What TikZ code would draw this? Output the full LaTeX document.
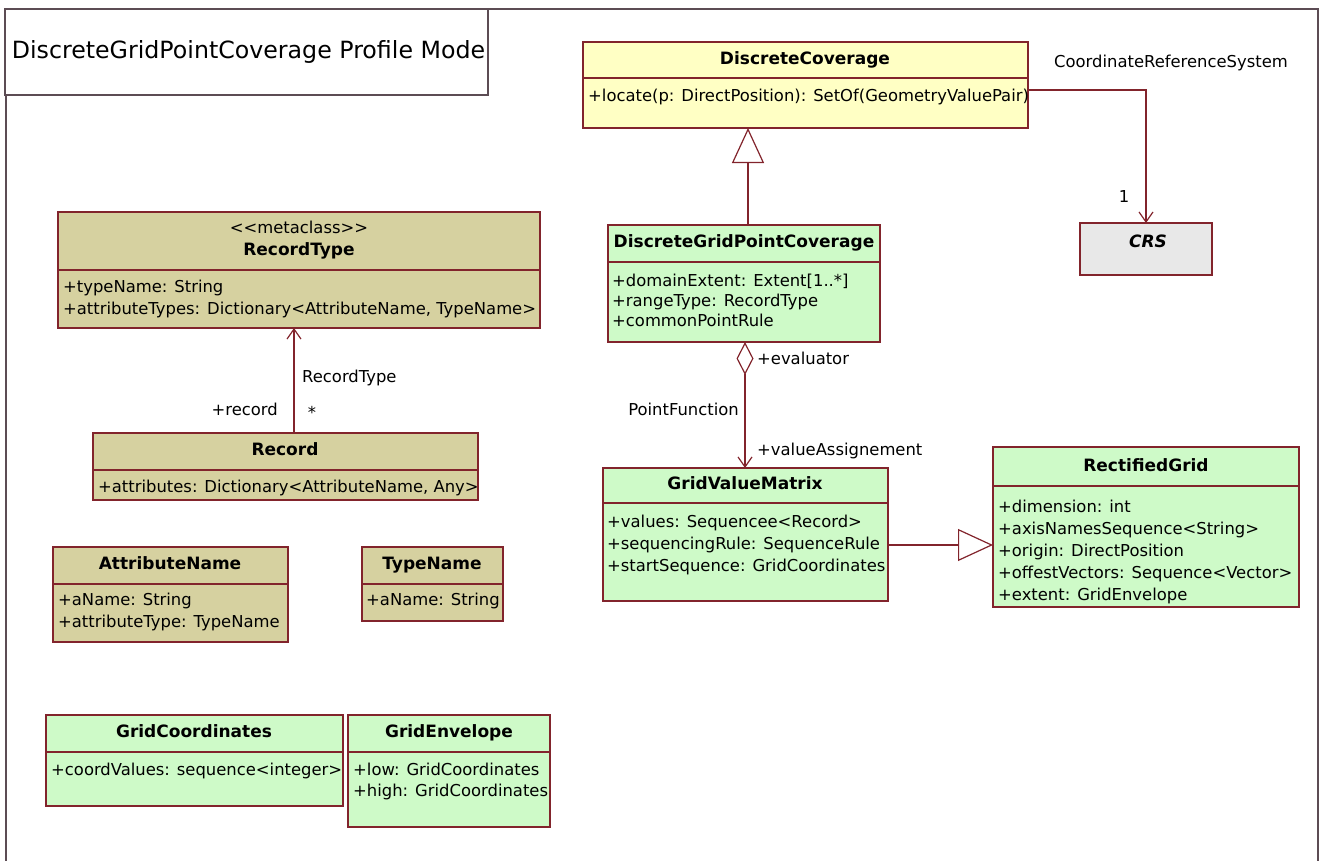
\documentclass[tikz,border=0pt]{standalone}
\usepackage{fontspec}
\setmainfont{DejaVu Sans}
\usetikzlibrary{arrows.meta,calc}
\definecolor{framecol}{RGB}{92,76,84}
\definecolor{edgecol}{RGB}{130,36,44}
\definecolor{yelfill}{RGB}{255,255,196}
\definecolor{khafill}{RGB}{214,209,160}
\definecolor{grnfill}{RGB}{206,250,200}
\definecolor{gryfill}{RGB}{232,232,232}
\tikzset{
  cls/.style={draw=edgecol, line width=1.3pt, inner sep=0pt, outer sep=0pt, anchor=north west},
  hdr/.style={font=\fontsize{17}{20}\selectfont\bfseries, inner sep=0pt, text height=12.5pt, text depth=3.5pt},
  att/.style={font=\fontsize{16.4}{20}\selectfont, inner sep=0pt, anchor=west, text height=12.5pt, text depth=3.5pt},
  lbl/.style={font=\fontsize{16.4}{20}\selectfont, inner sep=0pt, text height=12.5pt, text depth=3.5pt},
  sepline/.style={draw=edgecol, line width=1.3pt},
  assoc/.style={draw=edgecol, line width=1.2pt, -{Straight Barb[length=10pt,width=14pt]}},
  gen/.style={draw=edgecol, line width=1.2pt, -{Triangle[open,length=35pt,width=32pt,fill=white]}},
  agg/.style={draw=edgecol, line width=1.2pt, {Diamond[open,length=33pt,width=17pt,fill=white]}-{Straight Barb[length=10pt,width=14pt]}},
}
\begin{document}
\begin{tikzpicture}[x=1pt,y=-1pt]
\useasboundingbox (0,0) rectangle (1320,860);
% outer frame
\draw[draw=framecol, line width=2pt] (6,875) -- (6,9) -- (1318,9) -- (1318,875);
% title
\node[cls, draw=framecol, line width=1.8pt, fill=white, minimum width=483pt, minimum height=86pt] (title) at (5,9) {};
\node[inner sep=0pt, font=\fontsize{23.7}{28}\selectfont] (titletext) at ([xshift=2pt]title.center) {DiscreteGridPointCoverage Profile Mode};

% DiscreteCoverage
\node[cls, fill=yelfill, minimum width=445pt, minimum height=86pt] (dc) at (583,42) {};
\draw[sepline] (583,78) -- (1028,78);
\node[hdr] (dch) at (805,60) {DiscreteCoverage};
\node[att] (dca1) at (588,97) {+locate(p: DirectPosition): SetOf(GeometryValuePair)};

% CRS
\node[cls, fill=gryfill, minimum width=132pt, minimum height=52pt] (crs) at (1080,223) {};
\node[hdr, font=\fontsize{17}{20}\selectfont\bfseries\itshape] (crsh) at (1148,243) {CRS};

% DiscreteGridPointCoverage
\node[cls, fill=grnfill, minimum width=272pt, minimum height=117pt] (dgpc) at (608,225) {};
\draw[sepline] (608,262) -- (880,262);
\node[hdr] (dgpch) at (744,243) {DiscreteGridPointCoverage};
\node[att] (dgpca1) at (612,282) {+domainExtent: Extent[1..*]};
\node[att] (dgpca2) at (612,302) {+rangeType: RecordType};
\node[att] (dgpca3) at (612,322) {+commonPointRule};

% GridValueMatrix
\node[cls, fill=grnfill, minimum width=285pt, minimum height=133pt] (gvm) at (603,468) {};
\draw[sepline] (603,503) -- (888,503);
\node[hdr] (gvmh) at (745,485) {GridValueMatrix};
\node[att] (gvma1) at (607,523) {+values: Sequencee<Record>};
\node[att] (gvma2) at (607,545) {+sequencingRule: SequenceRule};
\node[att] (gvma3) at (607,567) {+startSequence: GridCoordinates};

% RectifiedGrid
\node[cls, fill=grnfill, minimum width=306pt, minimum height=160pt] (rg) at (993,447) {};
\draw[sepline] (993,486) -- (1299,486);
\node[hdr] (rgh) at (1146,467) {RectifiedGrid};
\node[att] (rga1) at (998,508) {+dimension: int};
\node[att] (rga2) at (998,530) {+axisNamesSequence<String>};
\node[att] (rga3) at (998,552) {+origin: DirectPosition};
\node[att] (rga4) at (998,574) {+offestVectors: Sequence<Vector>};
\node[att] (rga5) at (998,596) {+extent: GridEnvelope};

% RecordType
\node[cls, fill=khafill, minimum width=482pt, minimum height=116pt] (rt) at (58,212) {};
\draw[sepline] (58,270) -- (540,270);
\node[lbl] (rtst) at (299,229) {<{}<metaclass>{}>};
\node[hdr] (rth) at (299,251) {RecordType};
\node[att] (rta1) at (63,288) {+typeName: String};
\node[att] (rta2) at (63,310) {+attributeTypes: Dictionary<AttributeName, TypeName>};

% Record
\node[cls, fill=khafill, minimum width=385pt, minimum height=67pt] (rec) at (93,433) {};
\draw[sepline] (93,470) -- (478,470);
\node[hdr] (rech) at (285,451) {Record};
\node[att] (reca1) at (98,488) {+attributes: Dictionary<AttributeName, Any>};

% AttributeName
\node[cls, fill=khafill, minimum width=235pt, minimum height=95pt] (an) at (53,547) {};
\draw[sepline] (53,584) -- (288,584);
\node[hdr] (anh) at (170,565) {AttributeName};
\node[att] (ana1) at (58,601) {+aName: String};
\node[att] (ana2) at (58,623) {+attributeType: TypeName};

% TypeName
\node[cls, fill=khafill, minimum width=141pt, minimum height=74pt] (tn) at (362,547) {};
\draw[sepline] (362,584) -- (503,584);
\node[hdr] (tnh) at (432,565) {TypeName};
\node[att] (tna1) at (366,601) {+aName: String};

% GridCoordinates
\node[cls, fill=grnfill, minimum width=297pt, minimum height=91pt] (gc) at (46,715) {};
\draw[sepline] (46,752) -- (343,752);
\node[hdr] (gch) at (194,733) {GridCoordinates};
\node[att] (gca1) at (51,771) {+coordValues: sequence<integer>};

% GridEnvelope
\node[cls, fill=grnfill, minimum width=202pt, minimum height=112pt] (ge) at (348,715) {};
\draw[sepline] (348,752) -- (550,752);
\node[hdr] (geh) at (449,733) {GridEnvelope};
\node[att] (gea1) at (353,771) {+low: GridCoordinates};
\node[att] (gea2) at (353,792) {+high: GridCoordinates};

% connectors
\draw[gen] ([xshift=4pt]dgpc.north) -- ([xshift=4pt]dgpc.north |- dc.south);
\draw[assoc] ([yshift=-5pt]dc.east) -| (crs.north);
\node[lbl] (crslbl) at (1171,63) {CoordinateReferenceSystem};
\node[lbl] (crsmul) at (1124,198) {1};

\draw[agg] ([xshift=1pt]dgpc.south) -- ([xshift=1pt]dgpc.south |- gvm.north);
\node[lbl, anchor=west] (evl) at (757,360) {+evaluator};
\node[lbl, anchor=east] (pfl) at (739,411) {PointFunction};
\node[lbl, anchor=west] (val) at (757,451) {+valueAssignement};

\draw[gen] ([yshift=-10.5pt]gvm.east) -- ([yshift=-10.5pt]gvm.east -| rg.west);

\draw[assoc] ([xshift=8.5pt]rec.north) -- ([xshift=8.5pt]rec.north |- rt.south);
\node[lbl, anchor=west] (rtl) at (302,378) {RecordType};
\node[lbl, anchor=east] (recl) at (278,411) {+record};
\node[lbl] (recm) at (312,414) {*};
\end{tikzpicture}
\end{document}
